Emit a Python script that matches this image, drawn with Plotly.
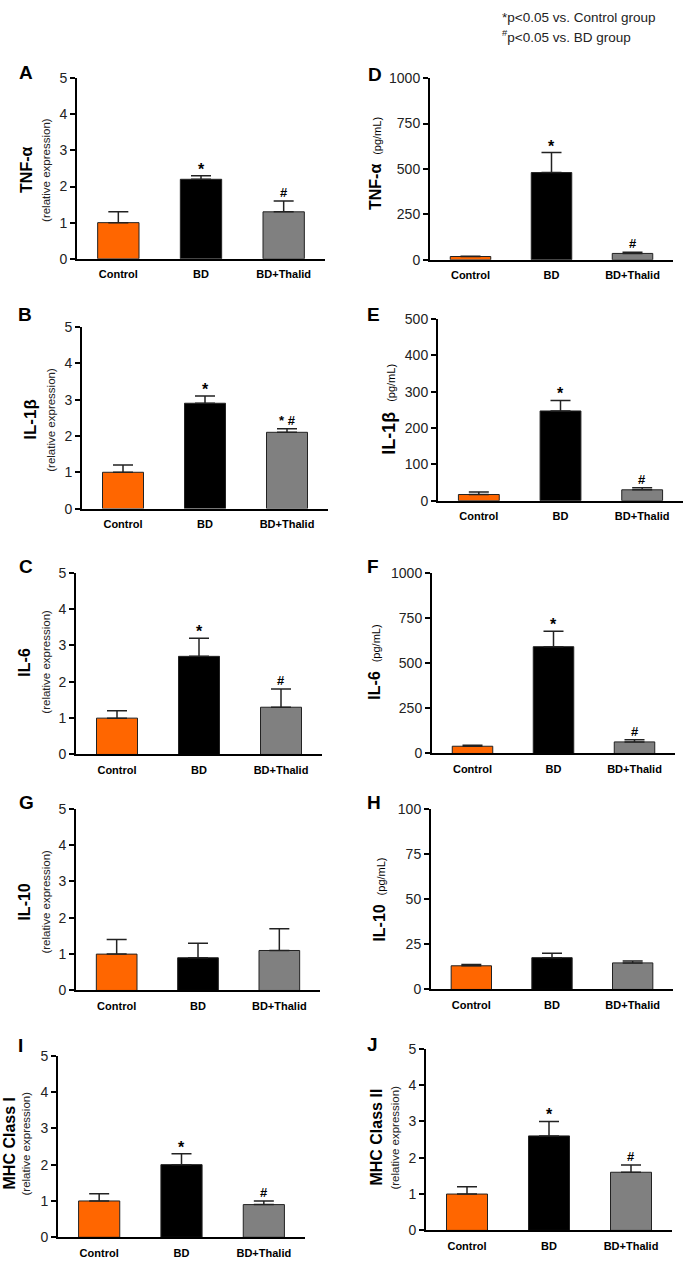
import plotly.graph_objects as go

# ---------------- data ----------------
categories = ["Control", "BD", "BD+Thalid"]
bar_colors = ["#FF6600", "#000000", "#808080"]

tnf_rel = [1.0, 2.2, 1.3]
tnf_rel_err = [0.3, 0.1, 0.3]
tnf_rel_sig = ["", "*", "#"]

il1b_rel = [1.0, 2.9, 2.1]
il1b_rel_err = [0.2, 0.2, 0.1]
il1b_rel_sig = ["", "*", "* #"]

il6_rel = [1.0, 2.7, 1.3]
il6_rel_err = [0.2, 0.5, 0.5]
il6_rel_sig = ["", "*", "#"]

il10_rel = [1.0, 0.9, 1.1]
il10_rel_err = [0.4, 0.4, 0.6]
il10_rel_sig = ["", "", ""]

mhc1_rel = [1.0, 2.0, 0.9]
mhc1_rel_err = [0.2, 0.3, 0.1]
mhc1_rel_sig = ["", "*", "#"]

tnf_pg = [18, 480, 35]
tnf_pg_err = [2, 110, 6]
tnf_pg_sig = ["", "*", "#"]

il1b_pg = [17, 247, 30]
il1b_pg_err = [7, 29, 6]
il1b_pg_sig = ["", "*", "#"]

il6_pg = [40, 591, 64]
il6_pg_err = [5, 85, 12]
il6_pg_sig = ["", "*", "#"]

il10_pg = [13.1, 17.6, 14.7]
il10_pg_err = [0.7, 2.4, 1.1]
il10_pg_sig = ["", "", ""]

mhc2_rel = [1.0, 2.6, 1.6]
mhc2_rel_err = [0.2, 0.4, 0.2]
mhc2_rel_sig = ["", "*", "#"]

# ---------------- layout ----------------
W, H = 685, 1269
FONT = "Liberation Sans, Arial, Helvetica, sans-serif"

# letter, values, errors, sig, ymax, dtick, main title, subtitle, axis px (x0, x1, ytop, y0), letter pos, title pos
panels = [
    ("A", tnf_rel, tnf_rel_err, tnf_rel_sig, 5, 1, "TNF-α", "(relative expression)",
     (77, 325, 71, 254), (26, 65), (27, 164, 46), 16),
    ("D", tnf_pg, tnf_pg_err, tnf_pg_sig, 1000, 250, "TNF-α", "(pg/mL)",
     (430, 673, 71, 255), (375, 67), (375, 158), 16),
    ("B", il1b_rel, il1b_rel_err, il1b_rel_sig, 5, 1, "IL-1β", "(relative expression)",
     (82, 328, 323, 507), (25, 310), (31, 417, 51), 17),
    ("E", il1b_pg, il1b_pg_err, il1b_pg_sig, 500, 100, "IL-1β", "(pg/mL)",
     (438, 683, 315, 499), (373, 310), (389, 407), 18),
    ("C", il6_rel, il6_rel_err, il6_rel_sig, 5, 1, "IL-6", "(relative expression)",
     (76, 322, 572, 756), (26, 566), (25, 662, 46), 16),
    ("F", il6_pg, il6_pg_err, il6_pg_sig, 1000, 250, "IL-6", "(pg/mL)",
     (432, 675, 572, 755), (373, 566), (375, 663), 16),
    ("G", il10_rel, il10_rel_err, il10_rel_sig, 5, 1, "IL-10", "(relative expression)",
     (76, 320, 811, 995), (26, 805), (25, 905, 46), 16),
    ("H", il10_pg, il10_pg_err, il10_pg_sig, 100, 25, "IL-10", "(pg/mL)",
     (431, 673, 811, 994), (374, 805), (380, 903), 16),
    ("I", mhc1_rel, mhc1_rel_err, mhc1_rel_sig, 5, 1, "MHC Class I", "(relative expression)",
     (58, 305, 1061, 1245), (20, 1051), (10, 1150, 26), 16),
    ("J", mhc2_rel, mhc2_rel_err, mhc2_rel_sig, 5, 1, "MHC Class II", "(relative expression)",
     (426, 672, 1054, 1238), (372, 1050), (377, 1144, 395), 16),
]

fig = go.Figure()
layout = {}
annotations = []

for i, (letter, vals, errs, sigs, ymax, dtick, main, sub, ax, lpos, tpos, tsize) in enumerate(panels, start=1):
    xa = "x" if i == 1 else f"x{i}"
    ya = "y" if i == 1 else f"y{i}"
    x0, x1, ytop, y0 = ax
    fig.add_trace(go.Bar(
        x=categories, y=vals, width=0.5,
        marker=dict(color=bar_colors, line=dict(color="#222222", width=1)),
        error_y=dict(type="data", array=errs, arrayminus=[0] * len(errs), symmetric=False,
                     color="#222222", thickness=1.5, width=10),
        xaxis=xa, yaxis=ya, showlegend=False, hoverinfo="skip",
    ))
    layout[f"xaxis{i}"] = dict(
        domain=[x0 / W, x1 / W], range=[-0.5, 2.5], anchor=ya, type="category",
        showline=True, linecolor="black", linewidth=2, mirror=False,
        ticks="outside", ticklen=4, tickcolor="rgba(0,0,0,0)",
        tickfont=dict(family=FONT, size=11, color="black", weight="bold"),
        showgrid=False, zeroline=False, fixedrange=True,
    )
    layout[f"yaxis{i}"] = dict(
        domain=[1 - y0 / H, 1 - ytop / H], range=[0, ymax], anchor=xa, dtick=dtick, tick0=0,
        showline=True, linecolor="black", linewidth=2,
        ticks="outside", ticklen=5, tickwidth=1.5, tickcolor="black",
        tickfont=dict(family=FONT, size=14, color="#222222"),
        showgrid=False, zeroline=False, fixedrange=True,
    )
    # significance markers
    for c, v, e, s in zip(categories, vals, errs, sigs):
        if s:
            sz = 16 if s == "*" else 13
            annotations.append(dict(
                x=c, y=v + e, xref=xa, yref=ya, text=f"<b>{s}</b>", showarrow=False,
                yanchor="bottom", xanchor="center", yshift=-4 if s == "*" else -1,
                font=dict(family=FONT, size=sz, color="black", weight="bold"),
            ))
    # panel letter
    annotations.append(dict(
        x=lpos[0] / W, y=1 - lpos[1] / H, xref="paper", yref="paper", text=f"<b>{letter}</b>",
        showarrow=False, xanchor="center", yanchor="middle",
        font=dict(family=FONT, size=19, color="black", weight="bold"),
    ))
    # axis titles
    if sub == "(pg/mL)":
        annotations.append(dict(
            x=tpos[0] / W, y=1 - tpos[1] / H, xref="paper", yref="paper", textangle=-90,
            text=f"<b>{main}</b>  <span style='font-size:11px;font-weight:normal'>{sub}</span>",
            showarrow=False, xanchor="center", yanchor="middle",
            font=dict(family=FONT, size=tsize, color="black"),
        ))
    else:
        annotations.append(dict(
            x=tpos[0] / W, y=1 - tpos[1] / H, xref="paper", yref="paper", textangle=-90,
            text=f"<b>{main}</b>", showarrow=False, xanchor="center", yanchor="middle",
            font=dict(family=FONT, size=tsize, color="black", weight="bold"),
        ))
        annotations.append(dict(
            x=tpos[2] / W, y=1 - tpos[1] / H, xref="paper", yref="paper", textangle=-90,
            text=sub, showarrow=False, xanchor="center", yanchor="middle",
            font=dict(family=FONT, size=11.5, color="#222222"),
        ))

# significance legend
annotations.append(dict(
    x=500 / W, y=1 - 10 / H, xref="paper", yref="paper", xanchor="left", yanchor="middle",
    text="*p&lt;0.05 vs. Control group", showarrow=False,
    font=dict(family=FONT, size=13.5, color="#222222"),
))
annotations.append(dict(
    x=500 / W, y=1 - 28 / H, xref="paper", yref="paper", xanchor="left", yanchor="middle",
    text="<sup>#</sup>p&lt;0.05 vs. BD group", showarrow=False,
    font=dict(family=FONT, size=13.5, color="#222222"),
))

fig.update_layout(
    width=W, height=H, margin=dict(l=0, r=0, t=0, b=0),
    paper_bgcolor="white", plot_bgcolor="white",
    font=dict(family=FONT), bargap=0.5,
    annotations=annotations, **layout,
)

fig.write_html("out.html", config={"displayModeBar": False},
               post_script="document.body.style.margin='0';document.body.style.overflow='hidden';")
